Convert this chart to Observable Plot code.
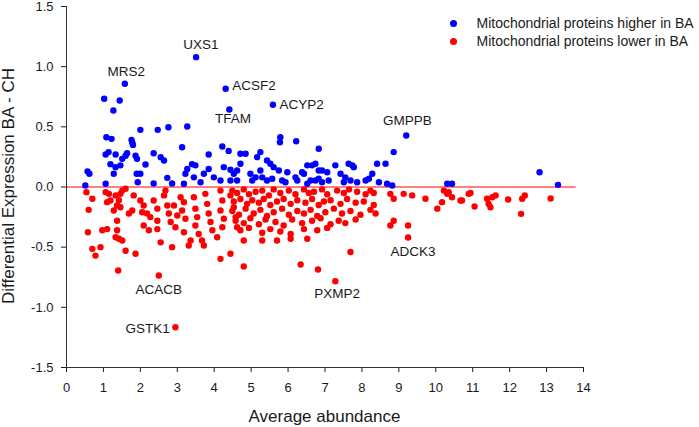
<!DOCTYPE html>
<html><head><meta charset="utf-8">
<script src="https://cdn.jsdelivr.net/npm/d3@7"></script>
<script src="https://cdn.jsdelivr.net/npm/@observablehq/plot@0.6"></script>
<style>
body{margin:0;background:#fff;font-family:Arial,"Liberation Sans",sans-serif;color:#1a1a1a}
#wrap{position:relative;width:699px;height:427px;overflow:hidden}
#wrap svg{position:absolute;left:0;top:0}
.lg{position:absolute;left:449.5px;font-size:14px;line-height:18px;white-space:nowrap}
.lg span.d{display:inline-block;width:7px;height:7px;border-radius:50%;margin-right:20px;vertical-align:1px}
#xt{position:absolute;left:0;width:649px;text-align:center;top:407px;font-size:17px}
#yt{position:absolute;left:9px;top:186px;font-size:17px;white-space:nowrap;transform:translate(-50%,-50%) rotate(-90deg)}
</style></head><body><div id="wrap"></div>
<script>
const xTicks=[0,1,2,3,4,5,6,7,8,9,10,11,12,13,14];
const yTicks=[-1.5,-1.0,-0.5,0.0,0.5,1.0,1.5];
const seriesNames=["Mitochondrial proteins higher in BA","Mitochondrial proteins lower in BA"];
const seriesColors=["#0000ff","#ff0000"];
const higherX=[3.51,1.58,1.02,1.44,1.27,4.31,4.41,2.0,2.47,2.76,3.27,1.08,1.22,1.76,5.59,9.20,5.79,6.22,
1.78,1.80,0.57,0.62,1.06,1.14,1.33,1.19,1.33,1.28,1.46,1.51,1.6,1.64,1.87,1.91,1.90,1.93,1.06,0.51,2.14,2.0,2.36,2.36,2.55,2.64,2.73,2.86,3.13,3.22,3.27,3.4,3.49,3.45,3.63,3.72,3.85,3.85,3.99,4.22,4.39,4.26,4.44,4.53,4.62,4.17,4.44,3.18,
5.78,6.83,8.86,4.71,4.85,4.71,5.16,5.25,5.43,5.52,5.61,4.98,5.12,5.25,5.30,5.03,5.43,5.57,5.84,5.93,5.75,5.98,6.2,6.25,6.38,6.43,6.52,6.65,6.74,6.83,6.92,6.61,6.74,6.83,6.92,6.52,7.06,7.10,7.28,7.42,7.55,7.51,7.64,7.74,7.78,7.69,7.87,8.10,8.19,8.28,8.41,8.64,8.46,8.68,8.82,10.31,10.44,4.62,
12.81,13.31];
const higherY=[1.079,0.858,0.733,0.719,0.636,0.816,0.644,0.475,0.475,0.497,0.503,0.414,0.40,0.392,0.683,0.428,0.414,0.38,
0.37,0.35,0.13,0.11,0.27,0.29,0.27,0.19,0.165,0.11,0.18,0.234,0.26,0.28,0.26,0.234,0.11,0.04,0.027,0.012,0.187,0.11,0.28,0.03,0.248,0.22,0.076,0.03,0.33,0.11,0.15,0.19,0.18,0.08,0.04,0.11,0.27,0.15,0.08,0.336,0.30,0.165,0.143,0.11,0.137,0.054,0.054,0.027,
0.372,0.318,0.29,0.276,0.276,0.193,0.248,0.29,0.22,0.193,0.165,0.11,0.08,0.137,0.08,0.054,0.054,0.068,0.054,0.04,0.137,0.123,0.08,0.054,0.123,0.11,0.18,0.18,0.193,0.137,0.137,0.054,0.054,0.068,0.04,0.027,0.123,0.054,0.18,0.11,0.08,0.04,0.193,0.18,0.165,0.054,0.04,0.054,0.068,0.11,0.193,0.193,0.04,0.027,0.012,0.027,0.027,0.054,
0.123,0.018];
const lowerX=[0.54,0.70,0.60,0.58,0.70,0.785,0.92,0.97,1.10,1.06,1.15,1.10,1.19,1.28,1.33,1.42,1.46,1.51,1.6,1.37,1.46,1.37,1.37,1.33,1.42,1.51,1.6,1.69,1.78,1.87,1.82,2.0,2.09,2.05,2.18,2.09,2.27,2.23,2.36,2.46,2.46,2.46,2.55,2.64,2.68,2.73,2.77,2.82,2.86,2.91,3.0,2.95,3.09,3.18,3.13,3.22,3.18,3.36,3.31,3.45,3.49,3.54,3.49,3.58,3.67,3.72,3.76,3.81,3.85,3.9,3.95,4.08,4.17,4.22,4.17,4.26,4.22,4.17,4.44,4.44,4.53,4.58,4.62,
1.40,2.50,2.95,4.80,6.34,6.81,7.28,
4.80,5.30,5.70,6.07,6.52,7.69,8.86,8.77,9.25,9.25,8.77,8.86,9.13,9.36,9.72,10.04,10.17,10.31,10.44,10.67,10.89,10.22,10.35,
10.71,10.94,11.05,11.39,11.43,11.48,11.53,11.62,11.96,12.34,12.41,12.31,13.11,
4.49,4.62,4.80,4.94,5.12,5.30,5.48,5.61,5.79,6.02,6.20,6.43,6.56,6.70,6.92,7.06,7.33,7.51,7.65,7.87,8.10,8.23,8.32,
4.53,4.71,4.89,5.03,5.21,5.34,5.52,5.70,5.88,6.07,6.25,6.47,6.65,6.83,6.97,7.15,7.42,7.60,7.83,8.05,8.32,
4.49,4.67,4.85,5.07,5.25,5.43,5.61,5.84,6.02,6.25,6.43,6.61,6.79,7.01,7.24,7.46,7.69,7.96,8.23,8.37,
4.58,4.80,4.98,5.21,5.39,5.66,5.88,6.11,6.38,6.65,6.88,7.15,7.37,7.55,7.83,
4.71,4.94,5.30,5.52,5.79,6.07,6.43,6.79,7.06];
const lowerY=[-0.043,-0.098,-0.19,-0.376,-0.514,-0.57,-0.50,-0.36,-0.35,-0.043,-0.057,-0.126,-0.112,-0.195,-0.07,-0.11,-0.057,-0.03,-0.015,-0.154,-0.168,-0.28,-0.36,-0.417,-0.43,-0.445,-0.53,-0.22,-0.195,-0.555,-0.07,-0.112,-0.154,-0.21,-0.22,-0.32,-0.25,-0.36,-0.112,-0.18,-0.28,-0.35,-0.46,-0.07,-0.03,-0.154,-0.22,-0.29,-0.50,-0.154,-0.237,-0.334,-0.085,-0.126,-0.195,-0.264,-0.376,-0.445,-0.486,-0.085,-0.18,-0.25,-0.32,-0.39,-0.445,-0.486,-0.057,-0.14,-0.22,-0.29,-0.36,-0.417,-0.03,-0.112,-0.195,-0.264,-0.334,-0.597,-0.555,-0.07,-0.168,-0.25,-0.334,
-0.694,-0.736,-1.165,-0.66,-0.644,-0.686,-0.783,
-0.445,-0.445,-0.445,-0.43,-0.43,-0.54,-0.28,-0.32,-0.32,-0.42,-0.057,-0.098,-0.057,-0.07,-0.098,-0.18,-0.126,-0.057,-0.085,-0.112,-0.057,-0.03,-0.043,
-0.112,-0.05,-0.162,-0.098,-0.14,-0.168,-0.085,-0.07,-0.104,-0.098,-0.07,-0.223,-0.096,
-0.03,-0.05,-0.02,-0.06,-0.04,-0.03,-0.07,-0.02,-0.05,-0.03,-0.06,-0.02,-0.05,-0.04,-0.02,-0.06,-0.03,-0.05,-0.02,-0.04,-0.06,-0.03,-0.05,
-0.12,-0.10,-0.14,-0.11,-0.13,-0.10,-0.15,-0.12,-0.10,-0.14,-0.11,-0.13,-0.10,-0.15,-0.12,-0.11,-0.14,-0.10,-0.13,-0.12,-0.15,
-0.20,-0.23,-0.18,-0.22,-0.19,-0.24,-0.21,-0.18,-0.23,-0.20,-0.22,-0.19,-0.24,-0.21,-0.18,-0.22,-0.20,-0.23,-0.19,-0.22,
-0.28,-0.30,-0.26,-0.31,-0.27,-0.29,-0.32,-0.27,-0.30,-0.28,-0.26,-0.31,-0.28,-0.30,-0.27,
-0.36,-0.34,-0.38,-0.35,-0.37,-0.39,-0.35,-0.36,-0.34];
const labelNames=["UXS1","MRS2","ACSF2","ACYP2","TFAM","GMPPB","ADCK3","PXMP2","ACACB","GSTK1"];
const labelX=[3.64,1.62,5.08,6.37,4.51,9.23,9.38,7.33,2.50,2.20];
const labelY=[1.186,0.96,0.844,0.683,0.567,0.553,-0.534,-0.888,-0.855,-1.174];

const higher=higherX.map((x,i)=>({x,y:higherY[i]}));
const lower=lowerX.map((x,i)=>({x,y:lowerY[i]}));
const labels=labelNames.map((name,i)=>({name,x:labelX[i],y:labelY[i]}));

const plot=Plot.plot({
  width:699,height:427,marginLeft:66,marginRight:116,marginTop:6,marginBottom:60,
  style:{fontFamily:'Arial,"Liberation Sans",sans-serif',fontSize:"13px",color:"#1a1a1a",background:"transparent"},
  x:{domain:[0,14],ticks:xTicks,tickSize:5,tickPadding:10,label:null},
  y:{domain:[-1.5,1.5],ticks:yTicks,tickFormat:d=>d.toFixed(1),tickSize:5,tickPadding:8,label:null},
  marks:[
    Plot.ruleY([0],{x1:0,x2:13.8,stroke:seriesColors[1],strokeWidth:1}),
    Plot.dot(lower,{x:"x",y:"y",r:3.2,fill:seriesColors[1],stroke:"none"}),
    Plot.dot(higher,{x:"x",y:"y",r:3.2,fill:seriesColors[0],stroke:"none"}),
    Plot.text(labels,{x:"x",y:"y",text:"name",fontSize:13.5,fill:"#1a1a1a"}),
    Plot.ruleX([0],{stroke:"#333"}),
    Plot.ruleY([-1.5],{stroke:"#333"})
  ]
});
const wrap=document.getElementById("wrap");
wrap.appendChild(plot);
seriesNames.forEach((n,i)=>{
  const d=document.createElement("div");d.className="lg";d.style.top=(14+i*18)+"px";
  d.innerHTML='<span class="d" style="background:'+seriesColors[i]+'"></span>'+n;
  wrap.appendChild(d);
});
const xt=document.createElement("div");xt.id="xt";xt.textContent="Average abundance";wrap.appendChild(xt);
const yt=document.createElement("div");yt.id="yt";yt.textContent="Differential Expression BA - CH";wrap.appendChild(yt);
</script></body></html>
